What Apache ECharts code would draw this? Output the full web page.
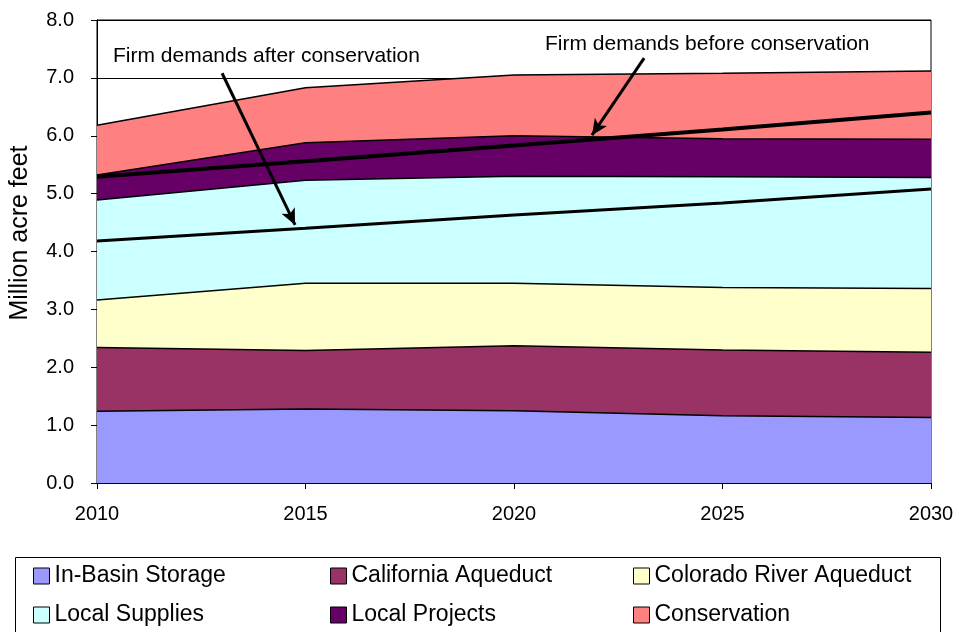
<!DOCTYPE html>
<html>
<head>
<meta charset="utf-8">
<script src="https://cdn.jsdelivr.net/npm/echarts@6/dist/echarts.min.js"></script>
<style>
html,body{margin:0;padding:0;background:#fff;}
#c{width:959px;height:632px;}
</style>
</head>
<body>
<div id="c"></div>
<script>
var years = ['2010', '2015', '2020', '2025', '2030'];
var inBasin = [1.24, 1.28, 1.25, 1.16, 1.13];
var california = [1.10, 1.01, 1.12, 1.14, 1.13];
var colorado = [0.82, 1.16, 1.08, 1.08, 1.10];
var localSupplies = [1.73, 1.78, 1.85, 1.91, 1.92];
var localProjects = [0.43, 0.65, 0.70, 0.66, 0.66];
var conservation = [0.86, 0.95, 1.05, 1.13, 1.18];
var demandBefore = [5.29, 5.56, 5.83, 6.11, 6.40];
var demandAfter = [4.18, 4.40, 4.63, 4.84, 5.08];
var areaNames = ['In-Basin Storage', 'California Aqueduct', 'Colorado River Aqueduct', 'Local Supplies', 'Local Projects', 'Conservation'];
var areaValues = [inBasin, california, colorado, localSupplies, localProjects, conservation];
var areaColors = ['#9999FF', '#993366', '#FFFFCC', '#CCFFFF', '#660066', '#FF8080'];
var yTicks = ['0.0','1.0','2.0','3.0','4.0','5.0','6.0','7.0','8.0'];
// annotation arrows (year, value)
var arrowAfter = [[2013.0, 7.08], [2014.75, 4.46]];
var arrowBefore = [[2023.12, 7.34], [2021.87, 6.01]];

var FONT = 'Liberation Sans';
var series = areaNames.map(function(n, i){
  return {
    name: n, type: 'line', stack: 'supply', symbol: 'none', smooth: false,
    data: areaValues[i],
    lineStyle: {color: '#000', width: 1.5},
    itemStyle: {color: areaColors[i], borderColor: '#000', borderWidth: 1},
    areaStyle: {color: areaColors[i], opacity: 1},
    z: 2
  };
});
series.push({
  name: 'Firm demands before conservation', type: 'line', symbol: 'none',
  data: demandBefore,
  lineStyle: {color: '#000', width: 4}, itemStyle: {color: '#000'}, z: 5
});
series.push({
  name: 'Firm demands after conservation', type: 'line', symbol: 'none',
  data: demandAfter,
  lineStyle: {color: '#000', width: 3}, itemStyle: {color: '#000'}, z: 5
});
series.push({
  name: 'arrows', type: 'line', xAxisIndex: 1, data: [], symbol: 'none', z: 6,
  markLine: {
    silent: true, symbol: ['none', 'arrow'], symbolSize: [11, 16],
    label: {show: false},
    lineStyle: {color: '#000', width: 3, type: 'solid'},
    data: [
      [{coord: arrowAfter[0]}, {coord: arrowAfter[1]}],
      [{coord: arrowBefore[0]}, {coord: arrowBefore[1]}]
    ]
  }
});

function legendCol(names, left){
  return {
    orient: 'vertical', left: left, top: 564, data: names, padding: 0,
    icon: 'rect', itemWidth: 16, itemHeight: 16, itemGap: 15,
    itemStyle: {borderColor: '#000', borderWidth: 1},
    textStyle: {fontFamily: FONT, fontSize: 23, color: '#000', lineHeight: 24, padding: [0,0,0,0]},
    selectedMode: false
  };
}

var chart = echarts.init(document.getElementById('c'), null, {renderer: 'canvas'});
chart.setOption({
  animation: false,
  backgroundColor: '#fff',
  grid: {left: 97, right: 28, top: 20, bottom: 149, show: true, borderColor: '#000', borderWidth: 1, backgroundColor: 'transparent'},
  xAxis: [{
    type: 'category', data: years, boundaryGap: false,
    axisLine: {show: true, lineStyle: {color: '#000', width: 1}},
    axisTick: {show: true, length: 6, lineStyle: {color: '#000'}},
    splitLine: {show: false},
    axisLabel: {fontFamily: FONT, fontSize: 20, color: '#000', margin: 21}
  }, {
    type: 'value', min: 2010, max: 2030, show: false, position: 'bottom'
  }],
  yAxis: {
    type: 'value', min: 0, max: 8, interval: 1,
    axisLine: {show: true, lineStyle: {color: '#000', width: 1}},
    axisTick: {show: true, length: 6, lineStyle: {color: '#000'}},
    splitLine: {show: true, lineStyle: {color: '#000', width: 1}},
    axisLabel: {fontFamily: FONT, fontSize: 20, color: '#000', margin: 23,
      formatter: function(v){ return yTicks[Math.round(v)]; }}
  },
  legend: [
    legendCol([areaNames[0], areaNames[3]], 33),
    legendCol([areaNames[1], areaNames[4]], 330),
    legendCol([areaNames[2], areaNames[5]], 633)
  ],
  graphic: [
    {type: 'rect', left: 13, top: 555, shape: {width: 925, height: 90}, style: {fill: 'none', stroke: '#000', lineWidth: 1}, silent: true},
    {type: 'text', x: 113, y: 56, style: {text: 'Firm demands after conservation', font: '21px "Liberation Sans"', fill: '#000', verticalAlign: 'middle'}, z: 10},
    {type: 'text', x: 545, y: 44, style: {text: 'Firm demands before conservation', font: '21px "Liberation Sans"', fill: '#000', verticalAlign: 'middle'}, z: 10},
    {type: 'text', x: 20, y: 233, rotation: Math.PI / 2, style: {text: 'Million acre feet', font: '25px "Liberation Sans"', fill: '#000', align: 'center', verticalAlign: 'middle'}, z: 10}
  ],
  series: series
});
</script>
</body>
</html>
